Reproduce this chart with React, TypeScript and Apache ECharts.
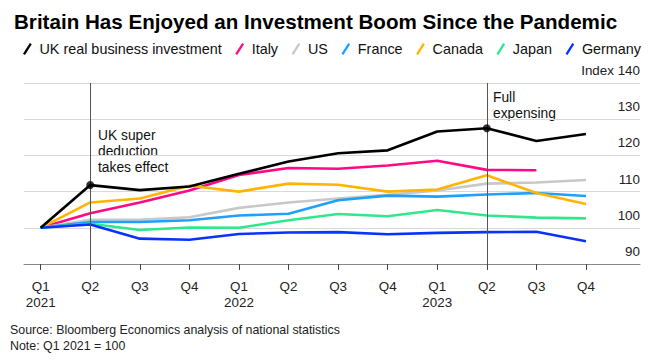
import React, { useEffect, useRef } from "react";
import * as echarts from "echarts";

const quarters = ["Q1\n2021", "Q2", "Q3", "Q4", "Q1\n2022", "Q2", "Q3", "Q4", "Q1\n2023", "Q2", "Q3", "Q4"];
const seriesNames = ["UK real business investment", "Italy", "US", "France", "Canada", "Japan", "Germany"];
const uk = [100, 111.8, 110.4, 111.4, 114.9, 118.3, 120.6, 121.4, 126.6, 127.5, 124.0, 125.9];
const italy = [100, 104.0, 107.0, 110.3, 114.6, 116.5, 116.3, 117.2, 118.5, 116.0, 115.9, null];
const us = [100, 102.2, 102.2, 102.9, 105.5, 107.0, 108.1, 109.1, 110.3, 112.2, 112.5, 113.2];
const france = [100, 101.6, 101.6, 102.1, 103.4, 103.9, 107.6, 108.9, 108.6, 109.2, 109.6, 108.8];
const canada = [100, 107.0, 108.1, 111.6, 110.0, 112.2, 111.9, 110.0, 110.6, 114.5, 109.6, 106.6];
const japan = [100, 101.1, 99.4, 100.1, 100.0, 102.1, 103.8, 103.2, 104.9, 103.4, 102.8, 102.6];
const germany = [100, 100.9, 97.0, 96.7, 98.3, 98.7, 98.8, 98.2, 98.6, 98.8, 98.9, 96.3];
const colors = ["#000000", "#ff0a84", "#c8c8c8", "#1ea0ff", "#ffb400", "#2ee88a", "#0a32ff"];
const yTicks = [90, 100, 110, 120, 130, 140];
const eventIdx = [1, 9];
const eventLabels = ["UK super\ndeduction\ntakes effect", "Full\nexpensing"];

const FONT = "'Liberation Sans', Arial, sans-serif";

export default function App() {
  const ref = useRef<HTMLDivElement>(null);
  useEffect(() => {
    if (!ref.current) return;
    const chart = echarts.init(ref.current, null, { renderer: "svg" });
    const allData = [uk, italy, us, france, canada, japan, germany];
    const series: any[] = allData.map((arr, si) => ({
      name: seriesNames[si],
      type: "line",
      data: arr.map((v, i) => [i, v]),
      symbol: "none",
      lineStyle: { width: 2.6, color: colors[si] },
      itemStyle: { color: colors[si] },
      z: si === 0 ? 5 : 2,
      connectNulls: false,
    }));
    series.push({
      name: "events",
      type: "line",
      data: [],
      markLine: {
        silent: true,
        symbol: "none",
        label: { show: false },
        lineStyle: { color: "#555", width: 1, type: "solid" },
        data: eventIdx.map((i) => ({ xAxis: i })),
      },
      z: 4,
    });
    series.push({
      name: "dots",
      type: "scatter",
      data: eventIdx.map((i) => [i, uk[i]]),
      symbol: "circle",
      symbolSize: 8,
      itemStyle: { color: "#000" },
      z: 6,
    });
    chart.setOption({
      animation: false,
      backgroundColor: "#fff",
      textStyle: { fontFamily: FONT },
      title: {
        text: "Britain Has Enjoyed an Investment Boom Since the Pandemic",
        left: 9,
        top: 6,
        textStyle: { fontSize: 20.6, fontWeight: "bold", color: "#000", fontFamily: FONT },
      },
      legend: {
        data: seriesNames,
        left: 18,
        top: 37,
        icon: "path://M0,11 L7,0 L9,1.3 L2,12.3 Z",
        itemWidth: 14,
        itemHeight: 12,
        itemGap: 13.5,
        textStyle: { fontSize: 14.4, color: "#111", fontFamily: FONT },
        selectedMode: false,
      },
      grid: { left: 24, right: 21, top: 83, bottom: 96 },
      xAxis: {
        type: "value",
        min: -0.337,
        max: 12.09,
        splitLine: { show: false },
        axisLine: { show: true, lineStyle: { color: "#888", width: 1 } },
        axisTick: {
          show: true,
          length: 6,
          lineStyle: { color: "#444" },
          customValues: quarters.map((_, i) => i),
        },
        axisLabel: {
          customValues: quarters.map((_, i) => i),
          formatter: (v: number) => quarters[Math.round(v)] ?? "",
          fontSize: 13.4,
          color: "#222",
          lineHeight: 16,
          margin: 14,
          fontFamily: FONT,
        },
      },
      yAxis: {
        type: "value",
        position: "right",
        min: yTicks[0],
        max: yTicks[yTicks.length - 1],
        interval: 10,
        axisLine: { show: false },
        axisTick: { show: false },
        splitLine: { show: true, lineStyle: { color: "#d9d9d9", width: 1 } },
        axisLabel: {
          inside: true,
          margin: 0,
          verticalAlign: "bottom",
          padding: [0, 0, 6, 0],
          fontSize: 13.4,
          color: "#222",
          fontFamily: FONT,
          formatter: (v: number) => (v === yTicks[yTicks.length - 1] ? "Index " + v : String(v)),
        },
      },
      graphic: [
        {
          type: "text",
          left: 98,
          top: 127,
          style: { text: eventLabels[0], font: `13.8px ${FONT}`, lineHeight: 16, fill: "#111" },
        },
        {
          type: "text",
          left: 493,
          top: 89,
          style: { text: eventLabels[1], font: `13.8px ${FONT}`, lineHeight: 16, fill: "#111" },
        },
        {
          type: "text",
          left: 10,
          top: 322,
          style: {
            text: "Source: Bloomberg Economics analysis of national statistics\nNote: Q1 2021 = 100",
            font: `12.4px ${FONT}`,
            lineHeight: 16,
            fill: "#222",
          },
        },
      ],
      series,
    });
    return () => chart.dispose();
  }, []);
  return <div ref={ref} style={{ position: "absolute", left: 0, top: 0, width: 661, height: 360 }} />;
}
